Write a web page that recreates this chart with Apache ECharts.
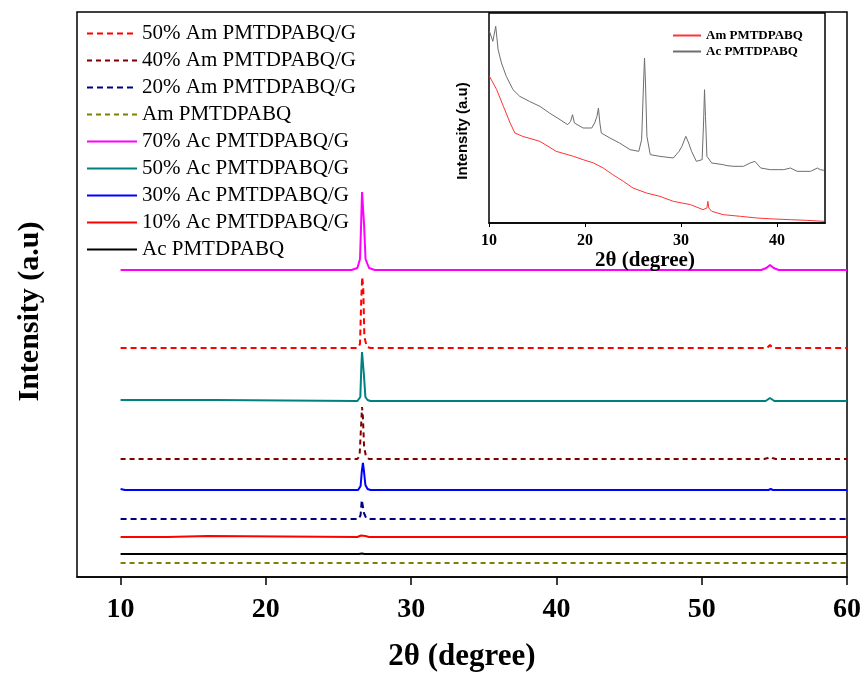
<!DOCTYPE html>
<html>
<head>
<meta charset="utf-8">
<title>XRD patterns of PMTDPABQ and PMTDPABQ/G composites</title>
<script src="https://cdn.jsdelivr.net/npm/echarts@6/dist/echarts.min.js"></script>
<style>
  html, body { margin: 0; padding: 0; background: #fff; }
  #chart { width: 866px; height: 681px; }
</style>
</head>
<body>
<div id="chart"></div>
<script>
// Tick labels
const mainTicks = [10, 20, 30, 40, 50, 60];
const insetTicks = [10, 20, 30, 40];

// Stacked XRD patterns, [2θ, intensity (a.u., offset)]
const ac70 = [[10,307],[25.9,307],[26.3,309],[26.48,318],[26.56,355],[26.62,385],[26.7,384],[26.76,352],[26.86,318],[27.1,309],[27.5,307],[54.1,307],[54.45,309],[54.7,312],[54.95,309],[55.3,307],[60,307]];
const am50 = [[10,229],[26.3,229],[26.48,233],[26.56,275],[26.63,300],[26.7,290],[26.78,240],[26.95,230],[27.2,229],[54.5,229],[54.7,232],[54.9,229],[60,229]];
const ac50 = [[10,177],[16.5,177],[16.6,176],[26.3,176],[26.5,180],[26.57,210],[26.62,225],[26.7,224],[26.76,200],[26.85,180],[27.0,177],[27.2,176],[54.4,176],[54.7,179],[55.0,176],[60,176]];
const am40 = [[10,118],[26.3,118],[26.45,121],[26.55,150],[26.62,170],[26.68,160],[26.76,130],[26.9,120],[27.1,118],[54.3,118],[54.55,119],[54.7,120],[54.85,119],[55.1,118],[60,118]];
const ac30 = [[10,88],[10.3,87],[26.35,87],[26.52,91],[26.6,105],[26.68,114],[26.75,106],[26.85,92],[27.0,88],[27.2,87],[54.6,87],[54.75,88],[54.9,87],[60,87]];
const am20 = [[10,58],[26.4,58],[26.52,62],[26.6,77],[26.66,72],[26.75,64],[26.9,59],[27.1,58],[60,58]];
const ac10 = [[10,40],[13.2,40],[13.3,41],[16,41],[16.1,40],[26.3,40],[26.55,41.5],[26.68,42.5],[26.85,41],[27.1,40],[60,40]];
const acPure = [[10,23],[26.4,23],[26.6,23.5],[26.8,23],[60,23]];
const amPure = [[10,14],[60,14]];

// Inset: unshifted patterns of the neat polymers
const insetAc = [[10.05,575],[10.4,545],[10.7,590],[10.95,520],[11.3,480],[11.8,440],[12.5,400],[13.2,380],[14.2,365],[15.3,350],[16.3,330],[17.4,310],[18.2,295],[18.5,305],[18.7,325],[18.9,300],[19.0,295],[19.8,285],[20.7,285],[21.0,300],[21.25,320],[21.4,345],[21.55,300],[21.7,270],[22.6,255],[23.6,240],[24.7,220],[25.6,215],[25.9,250],[26.1,420],[26.2,495],[26.3,420],[26.45,260],[26.8,205],[27.8,200],[29.2,195],[29.8,215],[30.1,230],[30.5,260],[30.8,240],[31.1,215],[31.6,185],[32.2,190],[32.35,300],[32.45,400],[32.55,320],[32.7,200],[33.2,180],[34.4,175],[34.6,180],[34.8,172],[35.5,170],[36.5,170],[37.2,180],[37.7,185],[38.3,165],[39.3,160],[40.7,160],[41.4,165],[42.1,155],[43.5,155],[44.2,165],[44.5,160],[44.9,158]];
const insetAm = [[10.05,440],[10.8,400],[11.5,350],[12.2,300],[12.7,270],[13.5,260],[15.3,245],[17.0,215],[18.8,200],[19.8,190],[20.9,180],[21.9,165],[22.9,145],[24.0,125],[25.0,105],[26.4,90],[27.8,80],[29.2,65],[31.0,55],[32.3,40],[32.7,45],[32.8,65],[32.9,45],[33.2,35],[34.4,25],[36.2,20],[37.9,15],[39.7,12],[41.4,10],[43.1,8],[44.9,5]];

const SERIF = "'Liberation Serif', 'Times New Roman', serif";
const SANS = "'Liberation Sans', Arial, sans-serif";
const INSET_TAG = ' (inset)';

function mainLine(name, data, color, dash) {
  return {
    name: name,
    type: 'line',
    xAxisIndex: 0,
    yAxisIndex: 0,
    data: data,
    symbol: 'none',
    smooth: false,
    color: color,
    lineStyle: { color: color, width: 2, type: dash ? dash : 'solid' },
    z: 3
  };
}

function insetLine(name, data, color) {
  return {
    name: name + INSET_TAG,
    type: 'line',
    xAxisIndex: 1,
    yAxisIndex: 1,
    data: data,
    symbol: 'none',
    color: color,
    lineStyle: { color: color, width: 1 },
    z: 6
  };
}

const mainNames = [
  '50% Am PMTDPABQ/G', '40% Am PMTDPABQ/G', '20% Am PMTDPABQ/G', 'Am PMTDPABQ',
  '70% Ac PMTDPABQ/G', '50% Ac PMTDPABQ/G', '30% Ac PMTDPABQ/G', '10% Ac PMTDPABQ/G', 'Ac PMTDPABQ'
];

const chart = echarts.init(document.getElementById('chart'), null, { renderer: 'canvas' });

chart.setOption({
  animation: false,
  backgroundColor: '#fff',
  grid: [
    { left: 77, top: 12, right: 19, bottom: 104, show: true, borderColor: '#000', borderWidth: 1.5, containLabel: false },
    { left: 489, top: 13, width: 336, height: 210, show: true, borderColor: '#000', borderWidth: 1.5, backgroundColor: '#fff', z: 5, containLabel: false }
  ],
  xAxis: [
    {
      type: 'value', gridIndex: 0, min: 7, max: 60,
      name: '2θ (degree)', nameLocation: 'middle', nameGap: 64,
      nameTextStyle: { fontFamily: SERIF, fontSize: 31, fontWeight: 'bold', color: '#000' },
      axisLine: { show: true, onZero: false, lineStyle: { color: '#000', width: 1.5 } },
      axisTick: { show: true, inside: false, length: 8, lineStyle: { color: '#000', width: 1.5 }, customValues: mainTicks },
      axisLabel: { show: true, margin: 19, fontFamily: SERIF, fontSize: 28, fontWeight: 'bold', color: '#000', customValues: mainTicks },
      splitLine: { show: false }
    },
    {
      type: 'value', gridIndex: 1, min: 10, max: 45,
      name: '2θ (degree)', nameLocation: 'middle', nameGap: 20,
      nameTextStyle: { fontFamily: SERIF, fontSize: 21, fontWeight: 'bold', color: '#000', padding: [0, 24, 0, 0] },
      axisLine: { show: true, onZero: false, lineStyle: { color: '#000', width: 1.5 } },
      axisTick: { show: true, inside: false, length: 4, lineStyle: { color: '#000', width: 1 }, customValues: insetTicks },
      axisLabel: { show: true, margin: 10, fontFamily: SERIF, fontSize: 16, fontWeight: 'bold', color: '#000', customValues: insetTicks },
      splitLine: { show: false },
      z: 6
    }
  ],
  yAxis: [
    {
      type: 'value', gridIndex: 0, min: 0, max: 565,
      name: 'Intensity (a.u)', nameLocation: 'middle', nameGap: 32,
      nameTextStyle: { fontFamily: SERIF, fontSize: 30, fontWeight: 'bold', color: '#000', lineHeight: 30, padding: [0, 34, 0, 0] },
      axisLine: { show: false }, axisTick: { show: false }, axisLabel: { show: false }, splitLine: { show: false }
    },
    {
      type: 'value', gridIndex: 1, min: 0, max: 630,
      name: 'Intensity (a.u)', nameLocation: 'middle', nameGap: 19,
      nameTextStyle: { fontFamily: SANS, fontSize: 15, fontWeight: 'bold', color: '#000', lineHeight: 15, padding: [0, 26, 0, 0] },
      axisLine: { show: false }, axisTick: { show: false }, axisLabel: { show: false }, splitLine: { show: false },
      z: 6
    }
  ],
  legend: [
    {
      orient: 'vertical', left: 86, top: 23, padding: 0,
      itemWidth: 50, itemHeight: 14, itemGap: 6,
      selectedMode: false,
      itemStyle: { opacity: 0 },
      textStyle: { fontFamily: SERIF, fontSize: 21, color: '#000', lineHeight: 21 },
      data: mainNames
    },
    {
      orient: 'vertical', left: 672, top: 29, padding: 0,
      itemWidth: 28, itemHeight: 8, itemGap: 3,
      selectedMode: false,
      itemStyle: { opacity: 0 },
      textStyle: { fontFamily: SERIF, fontSize: 13, fontWeight: 'bold', color: '#000', lineHeight: 13 },
      formatter: function (n) { return n.replace(INSET_TAG, ''); },
      data: ['Am PMTDPABQ' + INSET_TAG, 'Ac PMTDPABQ' + INSET_TAG],
      z: 7
    }
  ],
  series: [
    mainLine('50% Am PMTDPABQ/G', am50, '#ff0000', [6, 4]),
    mainLine('40% Am PMTDPABQ/G', am40, '#800000', [5, 4]),
    mainLine('20% Am PMTDPABQ/G', am20, '#000080', [6, 4]),
    mainLine('Am PMTDPABQ', amPure, '#808000', [5, 4]),
    mainLine('70% Ac PMTDPABQ/G', ac70, '#ff00ff'),
    mainLine('50% Ac PMTDPABQ/G', ac50, '#008080'),
    mainLine('30% Ac PMTDPABQ/G', ac30, '#0000ff'),
    mainLine('10% Ac PMTDPABQ/G', ac10, '#ff0000'),
    mainLine('Ac PMTDPABQ', acPure, '#000000'),
    insetLine('Am PMTDPABQ', insetAm, '#ff3333'),
    insetLine('Ac PMTDPABQ', insetAc, '#6e6e6e')
  ]
});
</script>
</body>
</html>
